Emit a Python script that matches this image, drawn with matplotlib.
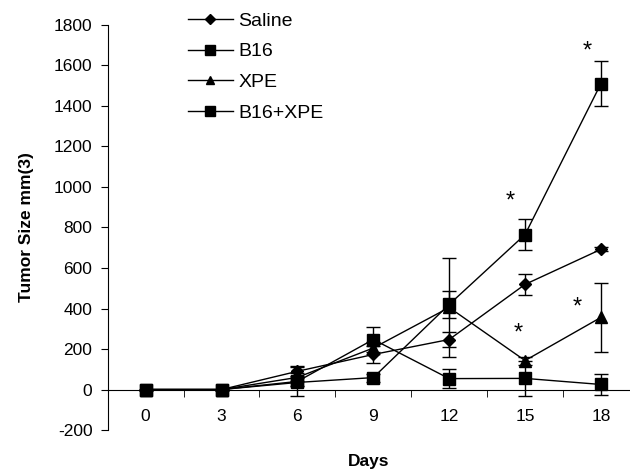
import numpy as np
import matplotlib
matplotlib.use("Agg")
from matplotlib import pyplot as plt
from matplotlib.lines import Line2D

plt.rcParams['font.family'] = ['Liberation Sans', 'DejaVu Sans']
plt.rcParams['axes.unicode_minus'] = False

days = [0, 3, 6, 9, 12, 15, 18]

# mean tumor size per group
saline = [0, 0, 90, 173, 247, 519, 692]
b16 = [0, 0, 35, 59, 420, 765, 1510]
xpe = [0, 0, 60, 205, 405, 143, 356]
b16_xpe = [0, 0, 40, 247, 54, 55, 25]

# error bars (+/-)
saline_err = [0, 0, 25, 40, 35, 50, 10]
b16_err = [0, 0, 20, 20, 65, 75, 110]
xpe_err = [0, 0, 20, 30, 245, 20, 172]
b16_xpe_err = [0, 0, 70, 60, 45, 88, 50]

# significance stars (day, value)
star_x = [14.4, 17.45, 14.75, 17.05]
star_y = [930, 1670, 275, 405]

fig = plt.figure(figsize=(6.3, 4.7), dpi=100)
ax = fig.add_axes([0.171, 0.085, 0.829, 0.862])

groups = [
    (saline, saline_err, 'D', 6, 'Saline'),
    (b16, b16_err, 's', 8.5, 'B16'),
    (xpe, xpe_err, '^', 8, 'XPE'),
    (b16_xpe, b16_xpe_err, 's', 9, 'B16+XPE'),
]
handles = []
for vals, err, m, ms, lab in groups:
    ax.errorbar(days, vals, yerr=err, marker=m, ms=ms, color='black', lw=1,
                capsize=5, elinewidth=1, capthick=1)
    handles.append(Line2D([], [], color='black', lw=1, marker=m, ms=ms * 0.8, label=lab))

for sx, sy in zip(star_x, star_y):
    ax.text(sx, sy, '*', fontsize=17, ha='center', va='center')

ax.set_xlim(-1.5, 19.15)
ax.set_ylim(-200, 1800)
ax.set_yticks(range(-200, 1801, 200))
ax.set_xticks(days)
ax.set_xticks(np.arange(-1.5, 18, 3), minor=True)
ax.tick_params(axis='x', which='major', length=0, pad=14, labelsize=12.5)
ax.tick_params(axis='x', which='minor', length=5, direction='out')
ax.tick_params(axis='y', length=5, direction='out', labelsize=12.5, pad=6)

ax.spines['top'].set_visible(False)
ax.spines['right'].set_visible(False)
ax.spines['bottom'].set_position(('data', 0))

ax.set_ylabel('Tumor Size mm(3)', fontsize=12.5, fontweight='bold', labelpad=14)
ax.set_xlabel('Days', fontsize=12.5, fontweight='bold')
ax.xaxis.set_label_coords(0.5, -0.06)

ax.legend(handles=handles, loc='upper left', bbox_to_anchor=(0.12, 1.075), frameon=False,
          fontsize=14, handlelength=2.3, labelspacing=0.68, handletextpad=0.3)

fig.savefig('out.png', dpi=100)
